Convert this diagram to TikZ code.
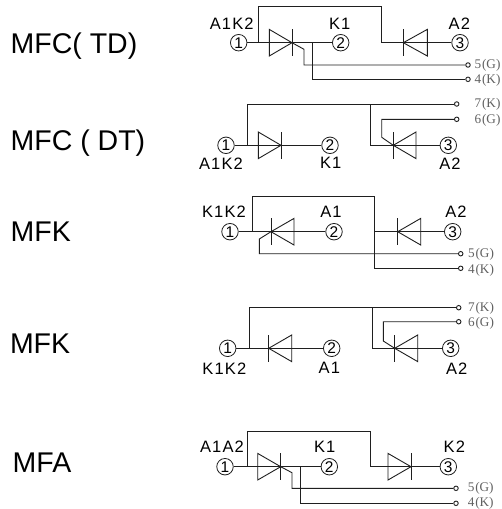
\documentclass[tikz,border=0pt]{standalone}
\usepackage{fontspec}
\setmainfont{Liberation Sans}
\newfontfamily\termfont{Liberation Serif}
\newfontfamily\pinlabfont[LetterSpace=7]{Liberation Sans}
\definecolor{wirec}{gray}{0.12}
\definecolor{termc}{gray}{0.38}
\tikzset{
  wire/.style={draw=wirec,line width=0.9pt},
  pin/.style={circle,draw=wirec,fill=white,line width=0.8pt,minimum size=16.5pt,inner sep=0pt,font=\fontsize{15.5}{15.5}\selectfont},
  tap/.style={circle,draw=wirec,fill=white,line width=0.9pt,minimum size=4.5pt,inner sep=0pt},
  plabel/.style={font=\pinlabfont\fontsize{16.5}{17}\selectfont,text=black,inner sep=0pt},
  mlabel/.style={font=\fontsize{28.5}{30}\selectfont,text=black,inner sep=0pt,anchor=base west},
  tlabel/.style={font=\termfont\fontsize{13.2}{14}\selectfont,text=termc,inner sep=0pt,anchor=west},
}
% #1 apex x, #2 base x, #3 y : triangle and bar at the apex
\newcommand{\diodeshape}[3]{%
  \draw[wire] (#2,#3-13.3) -- (#1,#3) -- (#2,#3+13.3) -- cycle;
  \draw[wire] (#1,#3-13.3) -- (#1,#3+13.3);
}
\newcommand{\tlab}[3]{\node[tlabel] at (#1,#2) {#3};}
\begin{document}
\begin{tikzpicture}[x=1pt,y=-1pt]
\useasboundingbox (0,0) rectangle (502,509);
\fill[white] (0,0) rectangle (502,509);

% ---------- row 1: MFC( TD)
\node[mlabel] (m1) at (10.5,53.3) {MFC( TD)};
\node[pin] (a1) at (238.7,42.7) {1};
\node[pin] (a2) at (340.7,42.7) {2};
\node[pin] (a3) at (460,42.7) {3};
\node[tap] (a5) at (468,65) {};
\node[tap] (a4) at (468,79.3) {};
\coordinate (a1t) at (258.3,42.7);
\coordinate (a2t) at (381.7,42.7);
\coordinate (a4t) at (312.7,42.7);
\coordinate (ag) at (292,42.7);
\draw[wire] (a1) -- (a2);
\draw[wire] (a1t) |- (a2t |- 0,6.7) -- (a2t) -- (a3);
\draw[wire] (ag) -- (304,49.3) |- (a5);
\draw[wire] (a4t) |- (a4);
\diodeshape{292}{269.3}{42.7}
\diodeshape{403.3}{427.3}{42.7}
\node[plabel] (la1) at (231.7,24) {A1K2};
\node[plabel] (la2) at (339.7,24) {K1};
\node[plabel] (la3) at (459.3,24) {A2};
\tlab{474.5}{65}{5\kern0.8pt(G)}
\tlab{474.5}{80}{4\kern0.8pt(K)}

% ---------- row 2: MFC ( DT)
\node[mlabel] (m2) at (10.5,150.3) {MFC ( DT)};
\node[pin] (b1) at (226,145.3) {1};
\node[pin] (b2) at (330,145.3) {2};
\node[pin] (b3) at (448.3,145.3) {3};
\node[tap] (b7) at (456.7,104) {};
\node[tap] (b6) at (456.7,119.3) {};
\coordinate (b1t) at (247.3,145.3);
\coordinate (b2t) at (370.3,145.3);
\coordinate (bg) at (393.3,145.3);
\draw[wire] (b1) -- (b2);
\draw[wire] (b1t) |- (b7);
\draw[wire] (b2t |- b7) -- (b2t) -- (b3);
\draw[wire] (bg) -- (381.7,137.3) |- (b6);
\diodeshape{281}{258.3}{145.3}
\diodeshape{393.3}{416}{145.3}
\node[plabel] (lb1) at (221,163.3) {A1K2};
\node[plabel] (lb2) at (330.7,163.3) {K1};
\node[plabel] (lb3) at (450,163.3) {A2};
\tlab{474.5}{104}{7\kern0.8pt(K)}
\tlab{474.5}{120}{6\kern0.8pt(G)}

% ---------- row 3: MFK
\node[mlabel] (m3) at (10.5,241.3) {MFK};
\node[pin] (c1) at (230,231.7) {1};
\node[pin] (c2) at (334,231.7) {2};
\node[pin] (c3) at (452.7,231.7) {3};
\node[tap] (c5) at (460.7,253.7) {};
\node[tap] (c4) at (460.7,268.3) {};
\coordinate (c1t) at (252,231.7);
\coordinate (c2t) at (374.3,231.7);
\coordinate (cg) at (271,231.7);
\draw[wire] (c1) -- (c2);
\draw[wire] (c1t) |- (c2t |- 0,196.7) -- (c2t) |- (c4);
\draw[wire] (c2t) -- (c3);
\draw[wire] (cg) -- (259.3,239) |- (c5);
\diodeshape{271}{294}{231.7}
\diodeshape{397.7}{420.7}{231.7}
\node[plabel] (lc1) at (224,211.7) {K1K2};
\node[plabel] (lc2) at (331,211.7) {A1};
\node[plabel] (lc3) at (456,211.7) {A2};
\tlab{468}{254}{5\kern0.8pt(G)}
\tlab{468}{270}{4\kern0.8pt(K)}

% ---------- row 4: MFK
\node[mlabel] (m4) at (9.8,353.3) {MFK};
\node[pin] (d1) at (227.7,348.3) {1};
\node[pin] (d2) at (331.7,348.3) {2};
\node[pin] (d3) at (450.7,348.3) {3};
\node[tap] (d7) at (458.7,307.7) {};
\node[tap] (d6) at (458.7,321.7) {};
\coordinate (d1t) at (249.3,348.3);
\coordinate (d2t) at (372.3,348.3);
\coordinate (dg) at (394.7,348.3);
\draw[wire] (d1) -- (d2);
\draw[wire] (d1t) |- (d7);
\draw[wire] (d2t |- d7) -- (d2t) -- (d3);
\draw[wire] (dg) -- (383.3,341) |- (d6);
\diodeshape{268.7}{291.7}{348.3}
\diodeshape{394.7}{417.7}{348.3}
\node[plabel] (ld1) at (224.3,368.3) {K1K2};
\node[plabel] (ld2) at (329.3,368.3) {A1};
\node[plabel] (ld3) at (456.7,368.3) {A2};
\tlab{468}{308}{7\kern0.8pt(K)}
\tlab{468}{323}{6\kern0.8pt(G)}

% ---------- row 5: MFA
\node[mlabel] (m5) at (12.5,472.3) {MFA};
\node[pin] (e1) at (225,466.7) {1};
\node[pin] (e2) at (329.3,466.7) {2};
\node[pin] (e3) at (448.3,466.7) {3};
\node[tap] (e5) at (456,488.3) {};
\node[tap] (e4) at (456,503.3) {};
\coordinate (e1t) at (247,466.7);
\coordinate (e2t) at (370,466.7);
\coordinate (e4t) at (300.7,466.7);
\coordinate (eg) at (280.7,466.7);
\draw[wire] (e1) -- (e2);
\draw[wire] (e1t) |- (e2t |- 0,431.7) -- (e2t) -- (e3);
\draw[wire] (eg) -- (292,472.7) |- (e5);
\draw[wire] (e4t) |- (e4);
\diodeshape{280.7}{257.7}{466.7}
\diodeshape{411}{388}{466.7}
\node[plabel] (le1) at (222,446.7) {A1A2};
\node[plabel] (le2) at (324.7,446.7) {K1};
\node[plabel] (le3) at (454.3,446.7) {K2};
\tlab{467.7}{488}{5\kern0.8pt(G)}
\tlab{467.7}{503.5}{4\kern0.8pt(K)}
\end{tikzpicture}
\end{document}
